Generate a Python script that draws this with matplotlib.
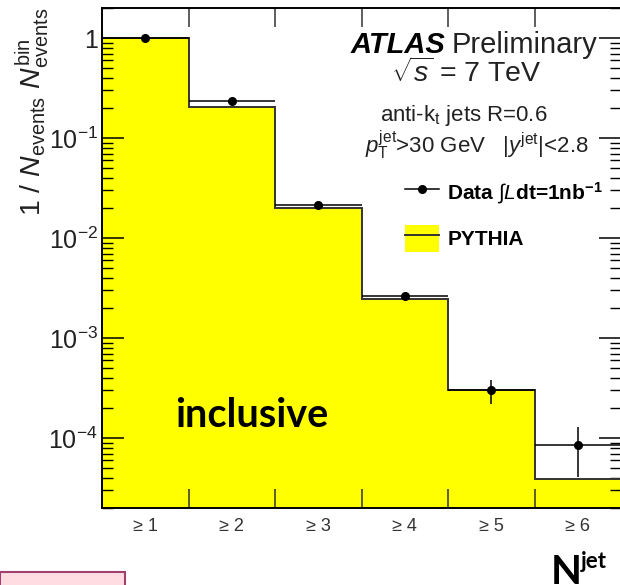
import numpy as np
import matplotlib
matplotlib.use("Agg")
import matplotlib.pyplot as plt
from matplotlib.patches import Patch, Rectangle
from matplotlib.lines import Line2D
from matplotlib.legend_handler import HandlerTuple
from matplotlib.ticker import FixedLocator, LogLocator, NullFormatter, FixedFormatter

plt.rcParams["font.family"] = ["Liberation Sans", "DejaVu Sans"]
plt.rcParams["mathtext.fontset"] = "custom"
plt.rcParams["mathtext.rm"] = "Liberation Sans"
plt.rcParams["mathtext.it"] = "Liberation Sans:italic"
plt.rcParams["mathtext.bf"] = "Liberation Sans:bold"

# Inclusive jet multiplicity, normalised to the number of events
bin_labels = ["\u2265 1", "\u2265 2", "\u2265 3", "\u2265 4", "\u2265 5", "\u2265 6"]
pythia = [1.0, 0.205, 0.0200, 0.00247, 3.0e-4, 3.9e-5]
data = [1.0, 0.235, 0.0216, 0.00262, 3.0e-4, 8.5e-5]
data_err = [0.002, 0.002, 0.0004, 0.00008, 0.8e-4, 4.4e-5]
ytick_vals = [1e-4, 1e-3, 1e-2, 1e-1, 1]
ytick_labels = ["10$^{-4}$", "10$^{-3}$", "10$^{-2}$", "10$^{-1}$", "1"]

W, H = 620, 585
fig = plt.figure(figsize=(W / 100, H / 100), dpi=100)


def fx(px):
    return px / W


def fy(py):
    return 1 - py / H


ax = fig.add_axes([fx(102), fy(508), fx(621) - fx(102), fy(8) - fy(508)])
ax.set_yscale("log")

n = len(pythia)
edges = np.arange(n + 1)
centers = edges[:-1] + 0.5

yellow = "#FFFF00"
ax.stairs(pythia, edges, fill=True, color=yellow, baseline=1e-7, zorder=1)
ax.stairs(pythia, edges, color="#333333", lw=1.4, zorder=2)
ax.errorbar(centers, data, xerr=0.5, yerr=data_err, fmt="o", color="black",
            ms=5.5, elinewidth=1.1, capsize=0, zorder=3)

ax.set_xlim(0, n)
ax.set_ylim(2e-5, 2)

# x axis: ticks on bin edges, labels at bin centres
ax.xaxis.set_major_locator(FixedLocator(edges[1:-1]))
ax.xaxis.set_major_formatter(NullFormatter())
ax.xaxis.set_minor_locator(FixedLocator(centers))
ax.xaxis.set_minor_formatter(FixedFormatter(bin_labels))
ax.tick_params(axis="x", which="major", direction="in", length=14, width=1.1,
               top=True, bottom=True, color="#333333")
ax.tick_params(axis="x", which="minor", length=0, pad=7, labelsize=13,
               labelcolor="#333333")

ax.yaxis.set_major_locator(FixedLocator(ytick_vals))
ax.yaxis.set_major_formatter(FixedFormatter(ytick_labels))
ax.yaxis.set_minor_locator(LogLocator(base=10, subs=np.arange(2, 10)))
ax.yaxis.set_minor_formatter(NullFormatter())
ax.tick_params(axis="y", which="major", direction="in", length=16, width=1.1,
               left=True, right=True, labelsize=18, labelcolor="#222222", pad=3)
ax.tick_params(axis="y", which="minor", direction="in", length=8, width=1.0,
               left=True, right=True)
for s in ax.spines.values():
    s.set_linewidth(1.4)
    s.set_zorder(5)

fig.text(fx(32), fy(8), r"1 / $N_{\mathrm{events}}$ $N_{\mathrm{events}}^{\mathrm{bin}}$",
         rotation=90, ha="center", va="top", fontsize=20.5, color="#222222")

# Annotations
fig.text(fx(445), fy(53), "ATLAS", fontsize=21, fontweight="bold", fontstyle="italic",
         ha="right", va="baseline")
fig.text(fx(452), fy(53), "Preliminary", fontsize=21, ha="left", va="baseline",
         color="#222222")
fig.text(fx(466), fy(82), r"$\sqrt{s}$ = 7 TeV", fontsize=20.5, ha="center",
         va="baseline", color="#222222")
fig.text(fx(464), fy(121), r"anti-k$_{\mathrm{t}}$ jets R=0.6", fontsize=16,
         ha="center", va="baseline", color="#222222")
fig.text(fx(477), fy(153),
         r"$p_{\mathrm{T}}^{\mathrm{jet}}$>30 GeV   |$y^{\mathrm{jet}}$|<2.8",
         fontsize=16, ha="center", va="baseline", color="#222222")

h_data = Line2D([], [], color="black", marker="o", ms=5.5, lw=1.1)
h_py = (Patch(facecolor=yellow, edgecolor="none"), Line2D([], [], color="#333333", lw=1.4))
leg = ax.legend([h_data, h_py],
                [r"Data $\int\mathit{L}$dt=1nb$^{\mathbf{-1}}$", "PYTHIA"],
                handler_map={tuple: HandlerTuple(ndivide=1, pad=0)},
                loc="upper left", bbox_to_anchor=(fx(405), fy(179)),
                bbox_transform=fig.transFigure, frameon=False, borderpad=0,
                borderaxespad=0, handlelength=1.63, handleheight=1.63,
                handletextpad=0.4, labelspacing=0.9,
                prop={"weight": "bold", "size": 15})

fig.text(fx(175), fy(427), "inclusive", family=["Lato", "DejaVu Sans"],
         fontweight="bold", fontsize=28.5, ha="left", va="baseline")

fig.text(fx(551), fy(584), "N", family=["Lato", "DejaVu Sans"], fontweight="bold",
         fontsize=29, ha="left", va="baseline")
fig.text(fx(581), fy(568), "jet", family=["Lato", "DejaVu Sans"], fontweight="bold",
         fontsize=16, ha="left", va="baseline")

fig.patches.append(Rectangle((fx(0), fy(595)), fx(125), fy(572) - fy(595),
                             transform=fig.transFigure, facecolor="#FFDCE2",
                             edgecolor="#A0406E", lw=1.5))

fig.savefig("out.png", dpi=100)
